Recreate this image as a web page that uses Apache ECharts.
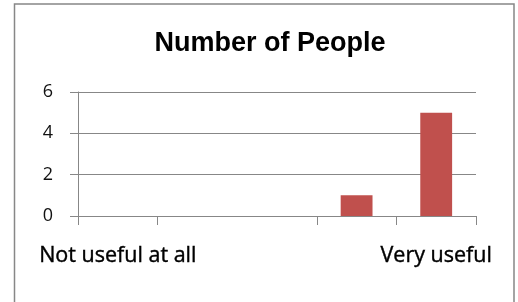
<!DOCTYPE html>
<html lang="en">
<head>
    <meta charset="UTF-8">
    <title>Number of People</title>
    <script src="https://cdn.jsdelivr.net/npm/echarts@6/dist/echarts.min.js"></script>
    <style>
        html, body {
            margin: 0;
            padding: 0;
            background: #fff;
        }
    </style>
</head>
<body>
<div id="chart1" style="width: 518px;height: 302px;"></div>
<script type="text/javascript">
    var categories = ['Not useful at all', '', '', '', 'Very useful'];
    var people = [0, 0, 0, 1, 5];
    var yTicks = [0, 2, 4, 6];

    var chart1 = echarts.init(document.getElementById('chart1'));
    var lineGrey = '#878787';

    chart1.setOption({
        backgroundColor: '#fff',
        animation: false,
        title: {
            text: 'Number of People',
            left: 265,
            textAlign: 'center',
            top: 25,
            textStyle: {
                fontFamily: 'Liberation Sans, Arial',
                fontSize: 27,
                fontWeight: 'bold',
                color: '#000'
            }
        },
        // outer chart frame
        graphic: [{
            type: 'rect',
            silent: true,
            shape: {x: 14.5, y: 4, width: 499.5, height: 330},
            style: {fill: 'none', stroke: lineGrey, lineWidth: 1.5}
        }],
        grid: {
            left: 78,
            right: 42,
            top: 92,
            bottom: 86
        },
        xAxis: {
            type: 'category',
            data: categories,
            axisLine: {lineStyle: {color: lineGrey, width: 1}},
            axisTick: {//第三个刻度在原图中缺失
                show: true,
                length: 9,
                lineStyle: {color: lineGrey},
                interval: function (i) {
                    return i !== 2;
                }
            },
            axisLabel: {
                interval: 0,
                margin: 29,
                fontFamily: 'Open Sans',
                fontSize: 21.5,
                color: '#000',
                textBorderColor: '#000',
                textBorderWidth: 0.4
            }
        },
        yAxis: {
            type: 'value',
            min: yTicks[0],
            max: yTicks[yTicks.length - 1],
            interval: yTicks[1] - yTicks[0],
            axisLine: {show: true, lineStyle: {color: lineGrey}},
            axisTick: {show: true, length: 8, lineStyle: {color: lineGrey}},
            splitLine: {lineStyle: {color: lineGrey}},
            axisLabel: {
                margin: 25,
                fontFamily: 'Open Sans',
                fontSize: 18,
                color: '#111'
            }
        },
        series: [{
            type: 'bar',
            data: people,
            barWidth: '40%',
            itemStyle: {color: '#C0504D'}
        }]
    });
</script>
</body>
</html>
